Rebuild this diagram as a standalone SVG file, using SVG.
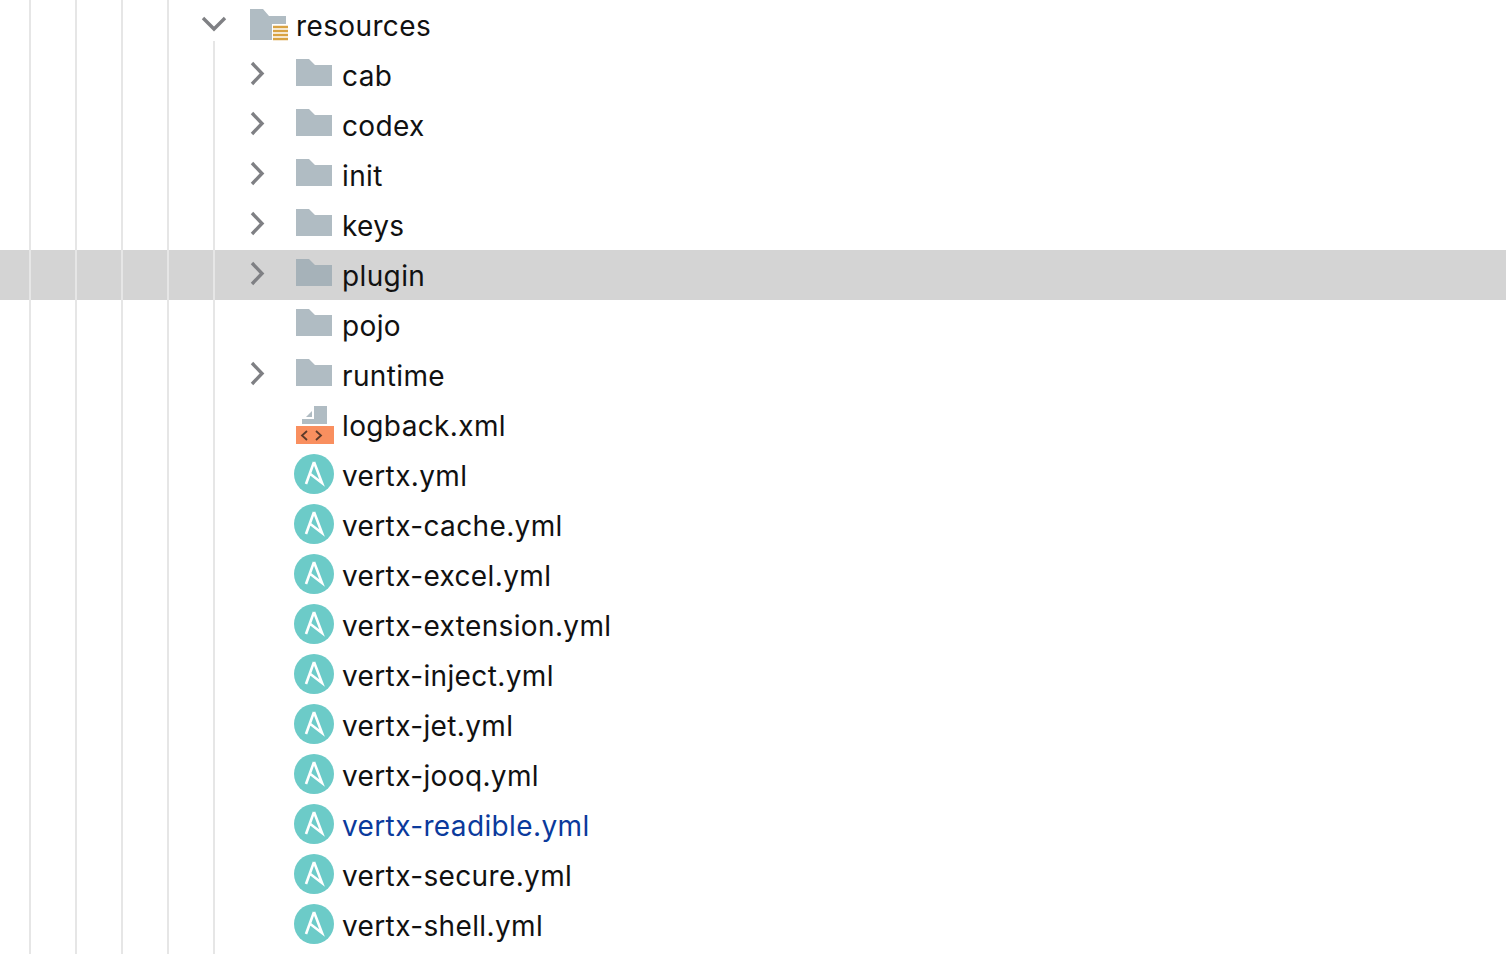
<svg xmlns="http://www.w3.org/2000/svg" width="1506" height="954" viewBox="0 0 1506 954">
<style>
text{font-family:"Inter","Liberation Sans",sans-serif;font-size:28px;fill:#111;letter-spacing:.37px}
.g{stroke:#e6e6e6;stroke-width:2;fill:none}
.c{stroke:#7f8084;stroke-width:3.4;fill:none}
.a{fill:#6ccbc8}
.f{fill:#b0bcc3}
</style>
<defs>
<path id="folder" class="f" d="M0 0H13L19 6H36V27H0Z"/>
<g id="ans"><circle cx="20" cy="20" r="20" class="a"/><path d="M20 8 L12 30 M20 8 L28 29 L15 19" fill="none" stroke="#fff" stroke-width="2.600"/></g>
<path id="chev" class="c" d="M0 0L10 10.500L0 21"/>
</defs>
<rect x="0" y="250" width="1506" height="50" fill="#d4d4d4"/>
<g id="guides"><path class="g" d="M30 0V954M76 0V954M122 0V954M168 0V954M214 41V954"/></g>
<g id="connectors"></g>
<g id="resources"><path class="c" d="M203 18L214 29L225 18"/><path class="f" d="M250 9H263L269 16H286V24H272V40H250Z"/><path d="M273 27H288M273 31H288M273 35H288M273 39H288" stroke="#d9a343" stroke-width="2.500"/><text x="296" y="36">resources</text></g>
<g id="cab"><use href="#chev" x="252" y="63"/><use href="#folder" x="296" y="59"/><text x="342" y="86">cab</text></g>
<g id="codex"><use href="#chev" x="252" y="113"/><use href="#folder" x="296" y="109"/><text x="342" y="136">codex</text></g>
<g id="init"><use href="#chev" x="252" y="163"/><use href="#folder" x="296" y="159"/><text x="342" y="186">init</text></g>
<g id="keys"><use href="#chev" x="252" y="213"/><use href="#folder" x="296" y="209"/><text x="342" y="236">keys</text></g>
<g id="plugin"><use href="#chev" x="252" y="263"/><path d="M296 259H309L315 265H332V286H296Z" fill="#a6b2b9"/><text x="342" y="286">plugin</text></g>
<g id="pojo"><use href="#folder" x="296" y="309"/><text x="342" y="336">pojo</text></g>
<g id="runtime"><use href="#chev" x="252" y="363"/><use href="#folder" x="296" y="359"/><text x="342" y="386">runtime</text></g>
<g id="logback"><path class="f" d="M314 406H327V424H302V419H314Z"/><path class="f" d="M312 411V417H306Z"/><rect x="296" y="426" width="38" height="18" fill="#f98f5f"/><path d="M307 431L302 435.500L307 440M316 431L321 435.500L316 440" fill="none" stroke="#5c3a2a" stroke-width="1.800"/><text x="342" y="436">logback.xml</text></g>
<g id="vertx"><use href="#ans" x="294" y="454"/><text x="342" y="486">vertx.yml</text></g>
<g id="vertx-cache"><use href="#ans" x="294" y="504"/><text x="342" y="536">vertx-cache.yml</text></g>
<g id="vertx-excel"><use href="#ans" x="294" y="554"/><text x="342" y="586">vertx-excel.yml</text></g>
<g id="vertx-extension"><use href="#ans" x="294" y="604"/><text x="342" y="636">vertx-extension.yml</text></g>
<g id="vertx-inject"><use href="#ans" x="294" y="654"/><text x="342" y="686">vertx-inject.yml</text></g>
<g id="vertx-jet"><use href="#ans" x="294" y="704"/><text x="342" y="736">vertx-jet.yml</text></g>
<g id="vertx-jooq"><use href="#ans" x="294" y="754"/><text x="342" y="786">vertx-jooq.yml</text></g>
<g id="vertx-readible"><use href="#ans" x="294" y="804"/><text x="342" y="836" style="fill:#0b3a9c">vertx-readible.yml</text></g>
<g id="vertx-secure"><use href="#ans" x="294" y="854"/><text x="342" y="886">vertx-secure.yml</text></g>
<g id="vertx-shell"><use href="#ans" x="294" y="904"/><text x="342" y="936">vertx-shell.yml</text></g>
</svg>
